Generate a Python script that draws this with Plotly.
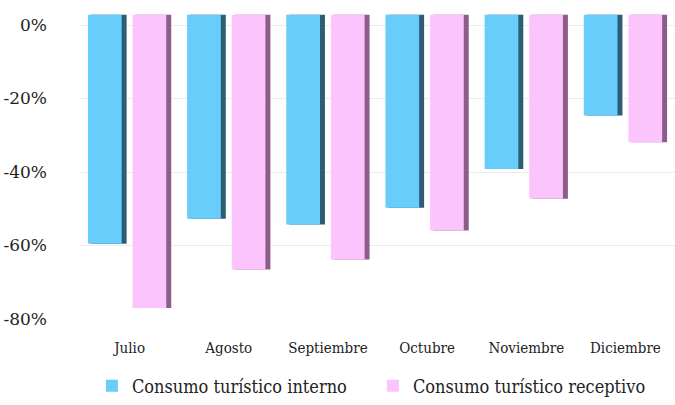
import plotly.graph_objects as go

months = ["Julio", "Agosto", "Septiembre", "Octubre", "Noviembre", "Diciembre"]
interno = [-59.5, -52.7, -54.3, -49.7, -39.2, -24.6]
receptivo = [-77.0, -66.5, -63.8, -55.9, -47.3, -31.9]
y_ticks = [0, -20, -40, -60, -80]
y_tick_text = ["0%", "-20%", "-40%", "-60%", "-80%"]

# faux 3D look: front face raised a little above zero, dark side face behind
LIFT = 2.8
FONT = "DejaVu Serif Condensed"


def add_series(fig, name, values, front, side, offset):
    drawn = [v - LIFT for v in values]
    fig.add_trace(go.Bar(
        x=months, y=drawn, base=LIFT, offset=offset + 0.03, width=0.36,
        marker=dict(color=side, line=dict(width=0)),
        showlegend=False, hoverinfo="skip",
    ))
    fig.add_trace(go.Bar(
        x=months, y=drawn, base=LIFT, offset=offset, width=0.34,
        name=name, customdata=values,
        hovertemplate="%{x}: %{customdata}%<extra></extra>",
        marker=dict(color=front, line=dict(width=0)),
    ))


def main() -> None:
    fig = go.Figure()
    add_series(fig, "Consumo turístico interno", interno, "#68cdfa", "#2d5d72", -0.42)
    add_series(fig, "Consumo turístico receptivo", receptivo, "#fcc4fc", "#8c5c8a", 0.03)

    fig.update_layout(
        width=675,
        height=405,
        barmode="overlay",
        plot_bgcolor="white",
        paper_bgcolor="white",
        margin=dict(l=80, r=0, t=14, b=84),
        font=dict(family=FONT, size=16, color="#222222"),
        legend=dict(
            orientation="h",
            x=0.02,
            xanchor="left",
            y=-0.22,
            yanchor="middle",
            entrywidth=236,
            entrywidthmode="pixels",
            font=dict(family=FONT, size=18, color="#222222"),
            traceorder="normal",
        ),
    )
    fig.update_xaxes(
        automargin=False,
        showgrid=False,
        showline=False,
        ticks="",
        ticklabelstandoff=18,
        tickfont=dict(family=FONT, size=15, color="#222222"),
    )
    fig.update_yaxes(
        automargin=False,
        range=[-80, 3],
        tickvals=y_ticks,
        ticktext=y_tick_text,
        showgrid=True,
        gridcolor="#ebebeb",
        zeroline=False,
        showline=False,
        ticklabelstandoff=32,
        tickfont=dict(family="DejaVu Serif", size=17, color="#222222"),
    )

    fig.write_html(
        "out.html",
        config={"displayModeBar": False},
        post_script="document.body.style.margin = '0';",
    )


if __name__ == "__main__":
    main()
